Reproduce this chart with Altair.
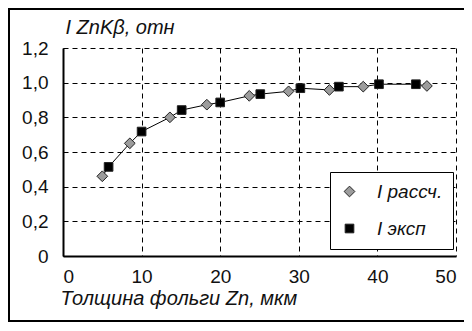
import altair as alt
import pandas as pd

calc_x = [5.0, 8.5, 13.6, 18.3, 23.7, 28.7, 33.9, 38.2, 46.3]
calc_y = [0.46, 0.65, 0.80, 0.873, 0.924, 0.95, 0.958, 0.977, 0.981]
exp_x = [5.8, 10.0, 15.1, 20.0, 25.1, 30.2, 35.1, 40.2, 44.9]
exp_y = [0.514, 0.718, 0.842, 0.886, 0.934, 0.968, 0.977, 0.991, 0.991]
series_names = ["I рассч.", "I эксп"]

x_ticks = [0, 10, 20, 30, 40, 50]
y_ticks = [0.0, 0.2, 0.4, 0.6, 0.8, 1.0, 1.2]

rows = []
for xv, yv in zip(calc_x, calc_y):
    rows.append({"series": series_names[0], "x": xv, "y": yv})
for xv, yv in zip(exp_x, exp_y):
    rows.append({"series": series_names[1], "x": xv, "y": yv})
df = pd.DataFrame(rows)

FONT = "Liberation Sans"
W, H = 393, 208

xenc = alt.X("x:Q", scale=alt.Scale(domain=[0, 50], nice=False),
             axis=alt.Axis(values=x_ticks, title="Толщина фольги Zn, мкм",
                           titleX=-3, titleY=48, titleAlign="left",
                           titleBaseline="alphabetic", titleAngle=0,
                           titleFontStyle="italic", titleFontWeight="normal",
                           labelPadding=11, labelOverlap=False))
yenc = alt.Y("y:Q", scale=alt.Scale(domain=[0, 1.2], nice=False),
             axis=alt.Axis(values=y_ticks, tickCount=7, title="I ZnKβ, отн",
                           titleX=2, titleY=-15, titleAlign="left",
                           titleBaseline="alphabetic", titleAngle=0,
                           titleFontStyle="italic", titleFontWeight="normal",
                           labelPadding=15, labelOverlap=False, labelBound=False,
                           labelExpr="datum.value == 0 ? '0' : replace(format(datum.value, '.1f'), '.', ',')"))

lines = alt.Chart(df).mark_line(color="black", strokeWidth=1).encode(
    x=xenc, y=yenc, order="x:Q")

pts = alt.Chart(df).mark_point(filled=True, opacity=1, stroke="#222", strokeWidth=1).encode(
    x=xenc, y=yenc,
    shape=alt.Shape("series:N", scale=alt.Scale(domain=series_names, range=["diamond", "square"]),
                    legend=alt.Legend(title=None, orient="none", legendX=267, legendY=124,
                                      padding=10, rowPadding=17, labelOffset=18,
                                      symbolSize=90, labelFontSize=19, labelFontStyle="italic",
                                      labelFont=FONT, labelColor="#111",
                                      strokeColor="black", fillColor="white",
                                      symbolStrokeWidth=1, symbolStrokeColor="#222")),
    color=alt.Color("series:N", scale=alt.Scale(domain=series_names, range=["#9c9c9c", "#000000"]),
                    legend=alt.Legend(title=None, orient="none", legendX=267, legendY=124)),
    size=alt.Size("series:N", scale=alt.Scale(domain=series_names, range=[115, 75]), legend=None),
    order=alt.Order("series:N"),
)

frame_src = alt.Data(values=[{"a": 1}])
left_rule = alt.Chart(frame_src).mark_rule(color="black", strokeWidth=2).encode(
    x=alt.value(-54), y=alt.value(-39), y2=alt.value(273))
top_rule = alt.Chart(frame_src).mark_rule(color="black", strokeWidth=2).encode(
    x=alt.value(-55), x2=alt.value(401), y=alt.value(-39))
bottom_rule = alt.Chart(frame_src).mark_rule(color="black", strokeWidth=2).encode(
    x=alt.value(-55), x2=alt.value(401), y=alt.value(273))

chart = alt.layer(lines, pts, left_rule, top_rule, bottom_rule).properties(
    width=W, height=H,
    autosize=alt.AutoSizeParams(type="none"),
    padding={"left": 55, "top": 40, "right": 8, "bottom": 67},
    background="white",
).configure_view(stroke=None).configure_axis(
    domain=True, domainColor="black", domainWidth=2,
    ticks=False, grid=True, gridColor="black", gridDash=[5, 4], gridWidth=1,
    labelFont=FONT, labelFontSize=19, labelColor="#111",
    titleFont=FONT, titleFontSize=20, titleColor="#111",
)

chart.save("out.html", embed_options={"renderer": "svg", "actions": False})
